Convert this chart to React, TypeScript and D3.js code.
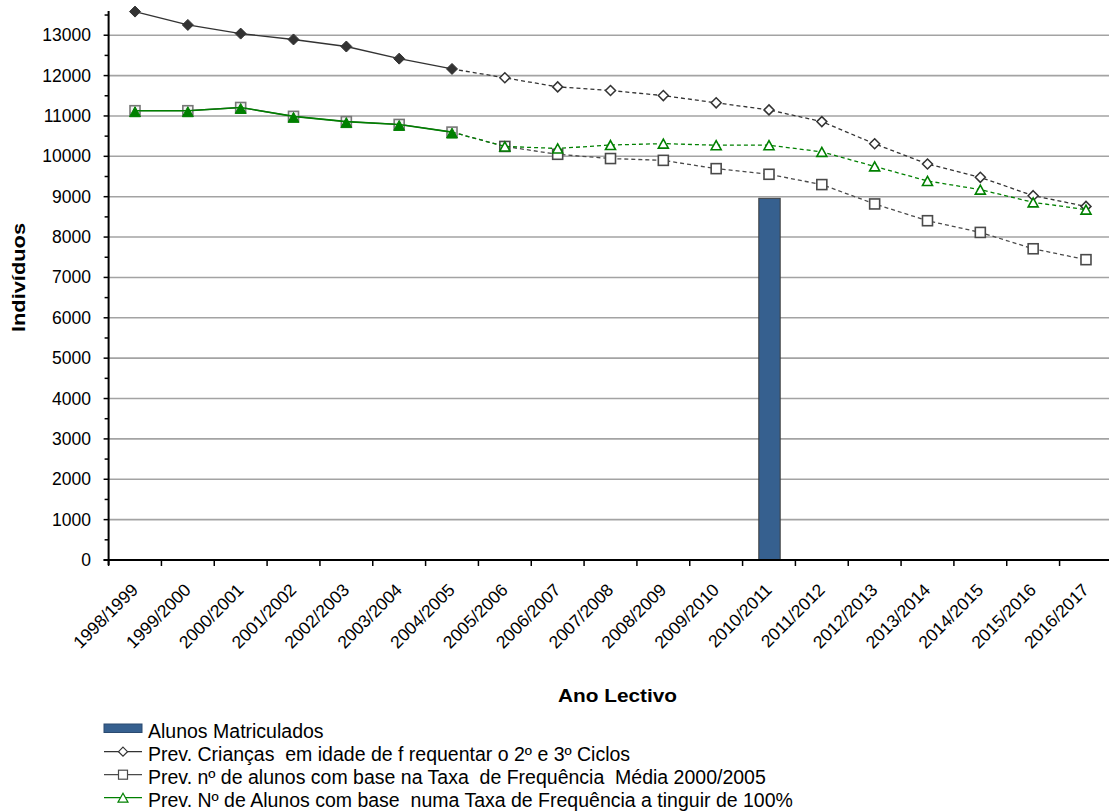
import React from 'react';
import * as d3 from 'd3';

const categories = [
  '1998/1999', '1999/2000', '2000/2001', '2001/2002', '2002/2003', '2003/2004', '2004/2005',
  '2005/2006', '2006/2007', '2007/2008', '2008/2009', '2009/2010', '2010/2011', '2011/2012',
  '2012/2013', '2013/2014', '2014/2015', '2015/2016', '2016/2017',
];

// Bar: enrolled students (only one year reported)
const alunosMatriculados: (number | null)[] = [
  null, null, null, null, null, null, null, null, null, null, null, null, 8960, null, null, null, null, null, null,
];

// Number of points that are observed (solid line, filled markers); the rest are forecasts
const observedCount = 7;

const criancas = [
  13585, 13255, 13040, 12895, 12720, 12420, 12165, 11945, 11720, 11630, 11505, 11325,
  11150, 10860, 10310, 9810, 9480, 9025, 8760,
];

const taxaMedia = [
  11130, 11130, 11210, 10990, 10860, 10790, 10600, 10245, 10050, 9945, 9900, 9695,
  9555, 9300, 8820, 8405, 8115, 7710, 7440,
];

const taxa100 = [
  11130, 11130, 11210, 10990, 10860, 10790, 10600, 10245, 10195, 10280, 10315, 10275,
  10275, 10110, 9750, 9390, 9175, 8860, 8680,
];

const yTicks = [0, 1000, 2000, 3000, 4000, 5000, 6000, 7000, 8000, 9000, 10000, 11000, 12000, 13000];
const yMinorTicks = [500, 1500, 2500, 3500, 4500, 5500, 6500, 7500, 8500, 9500, 10500, 11500, 12500, 13500];

const legendLabels = [
  'Alunos Matriculados',
  'Prev. Crianças  em idade de f requentar o 2º e 3º Ciclos',
  'Prev. nº de alunos com base na Taxa  de Frequência  Média 2000/2005',
  'Prev. Nº de Alunos com base  numa Taxa de Frequência a tinguir de 100%',
];

const FONT = '"Liberation Sans", Arial, Helvetica, sans-serif';
const W = 1109;
const H = 812;
const BAR_COLOR = '#36608f';
const DARK = '#333333';
const SQ = '#4a4a4a';
const GREEN = '#008000';

function diamondPath(cx: number, cy: number, r: number) {
  return `M${cx},${cy - r}L${cx + r},${cy}L${cx},${cy + r}L${cx - r},${cy}Z`;
}
function trianglePath(cx: number, cy: number, w: number, h: number) {
  return `M${cx},${cy - h / 2}L${cx + w / 2},${cy + h / 2}L${cx - w / 2},${cy + h / 2}Z`;
}

export default function App() {
  const x = d3.scaleBand<string>().domain(categories).range([108.6, 1112.4]).padding(0);
  const y = d3.scaleLinear().domain([0, 13600]).range([560, 11]);
  const bw = x.bandwidth();
  const cx = (i: number) => (x(categories[i]) as number) + bw / 2;

  const line = d3
    .line<[number, number]>()
    .x((d) => cx(d[0]))
    .y((d) => y(d[1]));

  const seg = (vals: number[], from: number, to: number) =>
    line(vals.slice(from, to + 1).map((v, k) => [from + k, v] as [number, number])) || '';

  const plotLeft = 108.6;
  const plotRight = 1112.4;
  const y0 = y(0);

  const barW = bw * 0.405;

  const boundaries = d3.range(categories.length + 1).map((i) => plotLeft + i * bw);

  const legendBaselines = [738, 761, 784, 807];

  return (
    <svg
      width={W}
      height={H}
      style={{ position: 'absolute', left: 0, top: 0, background: '#fff' }}
      fontFamily={FONT}
    >
      <rect x={0} y={0} width={W} height={H} fill="#fff" />
      {/* gridlines */}
      {yTicks.filter((t) => t > 0).map((t) => (
        <line key={t} x1={plotLeft} x2={plotRight} y1={y(t)} y2={y(t)} stroke="#a3a3a3" strokeWidth={1.6} />
      ))}

      {/* bar */}
      {alunosMatriculados.map((v, i) =>
        v == null ? null : (
          <rect
            key={i}
            x={cx(i) - barW / 2 + 0.5}
            y={y(v)}
            width={barW}
            height={y0 - y(v)}
            fill={BAR_COLOR}
            stroke="#3d3d3d"
            strokeWidth={1}
          />
        )
      )}

      {/* Crianças series */}
      <path d={seg(criancas, observedCount - 1, criancas.length - 1)} fill="none" stroke={DARK} strokeWidth={1.3} strokeDasharray="4,3" />
      <path d={seg(criancas, 0, observedCount - 1)} fill="none" stroke={DARK} strokeWidth={1.4} />
      {criancas.map((v, i) =>
        i < observedCount ? (
          <path key={i} d={diamondPath(cx(i), y(v), 5.5)} fill={DARK} stroke={DARK} strokeWidth={1} />
        ) : (
          <path key={i} d={diamondPath(cx(i), y(v), 5)} fill="#fff" stroke={DARK} strokeWidth={1.5} />
        )
      )}

      {/* Taxa média series */}
      <path d={seg(taxaMedia, observedCount - 1, taxaMedia.length - 1)} fill="none" stroke={SQ} strokeWidth={1.3} strokeDasharray="4,3" />
      <path d={seg(taxaMedia, 0, observedCount - 1)} fill="none" stroke={SQ} strokeWidth={1.3} />
      {taxaMedia.map((v, i) => (
        <rect
          key={i}
          x={cx(i) - 5}
          y={y(v) - 5}
          width={10}
          height={10}
          fill={i < observedCount ? '#f2f2f2' : '#fff'}
          stroke={i < observedCount ? '#777' : SQ}
          strokeWidth={1.6}
        />
      ))}

      {/* Taxa 100% series */}
      <path d={seg(taxa100, observedCount - 1, taxa100.length - 1)} fill="none" stroke={GREEN} strokeWidth={1.3} strokeDasharray="4,3" />
      <path d={seg(taxa100, 0, observedCount - 1)} fill="none" stroke={GREEN} strokeWidth={1.6} />
      {taxa100.map((v, i) =>
        i < observedCount ? (
          <path key={i} d={trianglePath(cx(i), y(v) + 1, 11, 10)} fill={GREEN} stroke={GREEN} strokeWidth={1} />
        ) : (
          <path key={i} d={trianglePath(cx(i), y(v), 10, 9)} fill="#fff" stroke={GREEN} strokeWidth={1.6} />
        )
      )}

      {/* axes */}
      <line x1={plotLeft} x2={plotLeft} y1={11} y2={y0 + 5} stroke="#000" strokeWidth={2} />
      <line x1={plotLeft - 5} x2={plotRight} y1={y0} y2={y0} stroke="#000" strokeWidth={2} />
      {yTicks.map((t) => (
        <line key={'mt' + t} x1={plotLeft - 5} x2={plotLeft} y1={y(t)} y2={y(t)} stroke="#000" strokeWidth={1.5} />
      ))}
      {yMinorTicks.map((t) => (
        <line key={'nt' + t} x1={plotLeft - 4} x2={plotLeft} y1={y(t)} y2={y(t)} stroke="#000" strokeWidth={1.5} />
      ))}
      {boundaries.map((bx, i) => (
        <line key={'xt' + i} x1={bx} x2={bx} y1={y0} y2={y0 + 6} stroke="#000" strokeWidth={1.5} />
      ))}

      {/* y tick labels */}
      {yTicks.map((t) => (
        <text key={'yl' + t} x={91} y={y(t) + 6} textAnchor="end" fontSize={17.5} fill="#000">
          {t}
        </text>
      ))}

      {/* x tick labels */}
      {categories.map((c, i) => {
        const ax = cx(i) + 4;
        const ay = 591;
        return (
          <text
            key={'xl' + c}
            x={ax}
            y={ay}
            textAnchor="end"
            fontSize={17.5}
            fill="#000"
            transform={`rotate(-45, ${ax}, ${ay})`}
          >
            {c}
          </text>
        );
      })}

      {/* axis titles */}
      <text
        x={0}
        y={0}
        transform={`translate(25, 277.5) rotate(-90)`}
        textAnchor="middle"
        fontSize={19}
        fontWeight="bold"
        textLength={109}
        lengthAdjust="spacingAndGlyphs"
      >
        Indivíduos
      </text>
      <text
        x={617.5}
        y={701.7}
        textAnchor="middle"
        fontSize={19}
        fontWeight="bold"
        textLength={119}
        lengthAdjust="spacingAndGlyphs"
      >
        Ano Lectivo
      </text>

      {/* legend */}
      <rect x={104} y={724} width={38} height={8.5} fill={BAR_COLOR} stroke="#2a4a70" strokeWidth={1} />
      {[1, 2, 3].map((k) => {
        const ly = legendBaselines[k] - 9.3;
        const color = k === 1 ? DARK : k === 2 ? SQ : GREEN;
        return (
          <g key={'lg' + k}>
            <line x1={104} x2={142} y1={ly} y2={ly} stroke={color} strokeWidth={1.2} />
            {k === 1 && <path d={diamondPath(123, ly, 4.5)} fill="#fff" stroke={DARK} strokeWidth={1.2} />}
            {k === 2 && <rect x={118.5} y={ly - 4.5} width={9} height={9} fill="#fff" stroke={SQ} strokeWidth={1.2} />}
            {k === 3 && <path d={trianglePath(123, ly, 10, 9)} fill="#fff" stroke={GREEN} strokeWidth={1.2} />}
          </g>
        );
      })}
      {legendLabels.map((l, k) => (
        <text key={'lt' + k} x={148} y={legendBaselines[k]} fontSize={19.5} fill="#000" style={{ whiteSpace: 'pre' }}>
          {l}
        </text>
      ))}
    </svg>
  );
}
